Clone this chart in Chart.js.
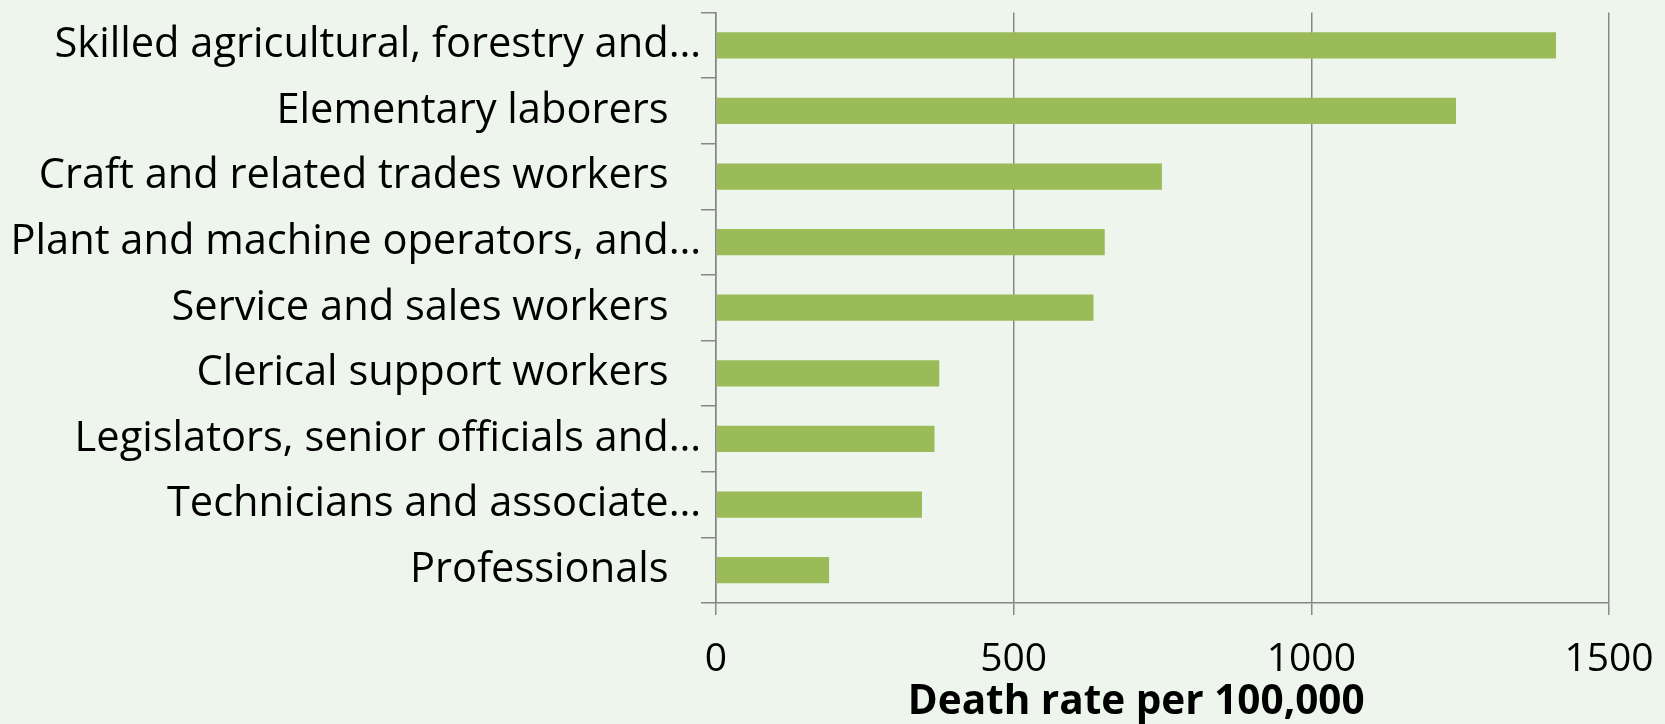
<!DOCTYPE html>
<html>
<head>
<meta charset="utf-8">
<script src="https://cdn.jsdelivr.net/npm/chart.js@4.4.1/dist/chart.umd.min.js"></script>
<style>
    html, body { margin: 0; padding: 0; background: #eef5ec; overflow: hidden; }
    #wrap { width: 1665px; height: 724px; position: relative; }
    #deathChart { display: block; }
</style>
</head>
<body>
<div id="wrap"><canvas id="deathChart"></canvas></div>
<script>
// occupations, top to bottom (trailing spaces keep the short ones off the axis like the original)
var occupations = [
    "Skilled agricultural, forestry and\u2026",
    "Elementary laborers   ",
    "Craft and related trades workers   ",
    "Plant and machine operators, and\u2026",
    "Service and sales workers   ",
    "Clerical support workers   ",
    "Legislators, senior officials and\u2026",
    "Technicians and associate\u2026",
    "Professionals   "
];
var deathRates = [1411, 1243, 749, 653, 634, 375, 367, 346, 190];
var rateTicks = [0, 500, 1000, 1500];
var axisTitle = "Death rate per 100,000     ";

window.addEventListener("load", function (event) {
    var gridGray = "#878787";
    var fontFamily = "'Open Sans', sans-serif";

    var data = {
        labels: occupations,
        datasets: [
            {
                label: "Death rate",
                data: deathRates,
                backgroundColor: "#9bbb59",
                borderWidth: 0,
                barPercentage: 0.4,
                categoryPercentage: 1.0
            }]
    };

    var config = {
        type: "bar",
        data: data,
        options: {
            indexAxis: "y",
            responsive: true,
            maintainAspectRatio: false,
            animation: false,
            layout: {
                padding: { top: 12, right: 56, left: 0, bottom: 0 }
            },
            plugins: {
                legend: { display: false },
                tooltip: { enabled: false }
            },
            scales: {
                x: {
                    type: "linear",
                    min: rateTicks[0],
                    max: rateTicks[rateTicks.length - 1],
                    afterBuildTicks: function (scale) {
                        scale.ticks = rateTicks.map(v => ({ value: v }));
                    },
                    afterFit: function (scale) {
                        scale.height = 121;
                        // label overhang was eating into the plot, the layout padding covers it
                        scale.paddingLeft = 0;
                        scale.paddingRight = 0;
                    },
                    grid: {
                        color: gridGray,
                        lineWidth: 1.5,
                        tickLength: 12
                    },
                    border: { display: true, color: gridGray, width: 1.5 },
                    ticks: {
                        color: "#000",
                        font: { family: fontFamily, size: 39 },
                        padding: 21,
                        maxRotation: 0,
                        callback: function (value) {
                            return String(value);
                        }
                    },
                    title: {
                        display: true,
                        text: axisTitle,
                        color: "#000",
                        font: { family: fontFamily, size: 40.5, weight: "bold", lineHeight: 1.0 },
                        padding: { top: 0, bottom: 1 }
                    }
                },
                y: {
                    afterFit: function (scale) {
                        scale.width = 716;
                    },
                    grid: {
                        offset: true,
                        drawOnChartArea: false,
                        color: gridGray,
                        lineWidth: 1.5,
                        tickLength: 15
                    },
                    border: { display: true, color: gridGray, width: 1.5 },
                    ticks: {
                        color: "#000",
                        font: { family: fontFamily, size: 41.6, lineHeight: 0.6 },
                        padding: 0,
                        autoSkip: false
                    }
                }
            }
        }
    };

    var ctx = document.getElementById("deathChart");
    new Chart(ctx, config);
}, false);
</script>
</body>
</html>
